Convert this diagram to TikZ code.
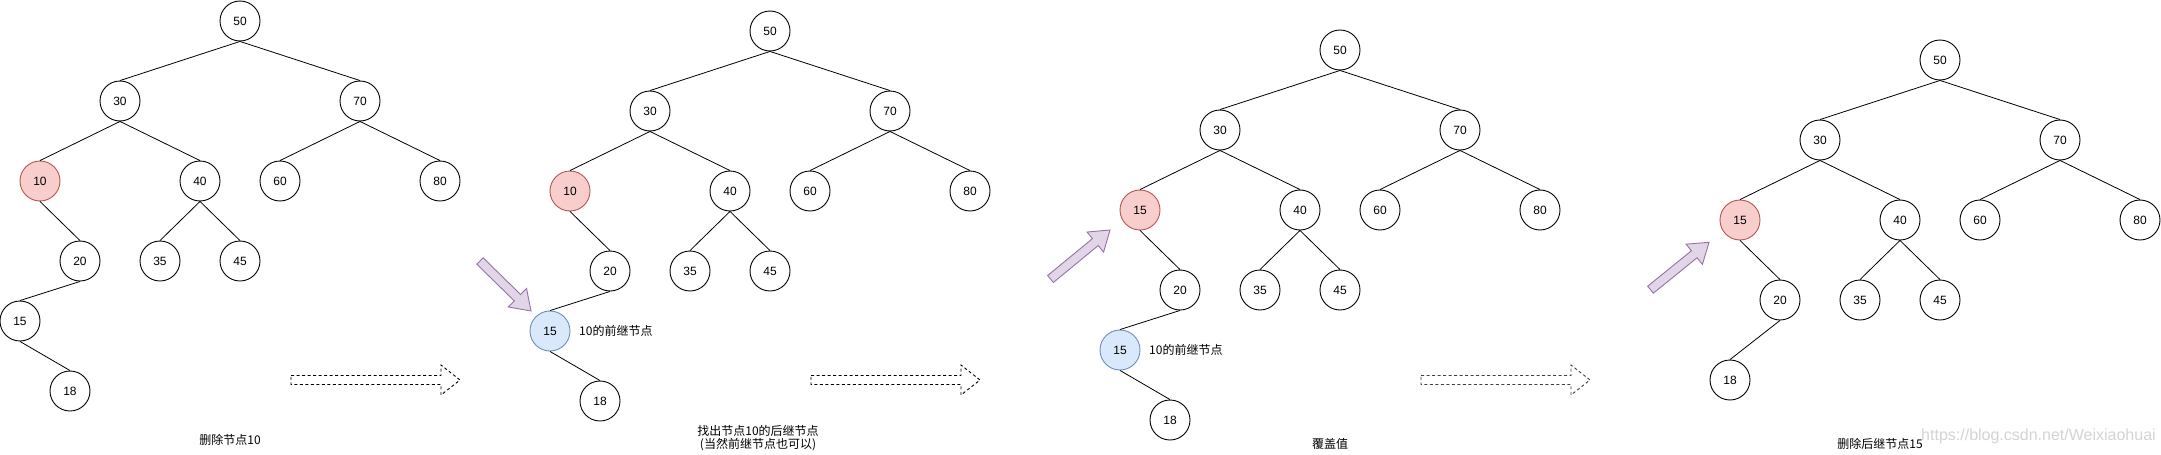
\documentclass[tikz,border=0pt]{standalone}
\usepackage{fontspec}
\setmainfont{Liberation Sans}
\newfontfamily\cjk{Noto Sans CJK SC}
\usetikzlibrary{calc}
\definecolor{redF}{HTML}{F8CECC}
\definecolor{redD}{HTML}{B85450}
\definecolor{blueF}{HTML}{DAE8FC}
\definecolor{blueD}{HTML}{6C8EBF}
\definecolor{purF}{HTML}{E1D5E7}
\definecolor{purD}{HTML}{9673A6}
\definecolor{wmark}{HTML}{D4D4D4}
\tikzset{
  nd/.style={circle,draw=black,line width=0.9pt,minimum size=40pt,inner sep=0pt,font=\fontsize{12}{14}\selectfont},
  hotnode/.style={fill=redF,draw=redD},
  succnode/.style={fill=blueF,draw=blueD},
  edge/.style={draw=black,line width=0.8pt},
  lbl/.style={font=\cjk\fontsize{12}{14}\selectfont,inner sep=0pt},
  hollowarrow/.style={draw=black,line width=0.9pt,dash pattern=on 3pt off 2.5pt},
  fatarrow/.style={fill=purF,draw=purD,line width=0.9pt,line join=miter}
}
\newcommand\basetree[3]{%
  \node[nd] (#1r) at (240,20) {50};
  \node[nd] (#1a) at (120,100) {30};
  \node[nd] (#1b) at (360,100) {70};
  \node[nd,#3] (#1c) at (40,180) {#2};
  \node[nd] (#1d) at (200,180) {40};
  \node[nd] (#1e) at (280,180) {60};
  \node[nd] (#1f) at (440,180) {80};
  \node[nd] (#1g) at (80,260) {20};
  \node[nd] (#1h) at (160,260) {35};
  \node[nd] (#1i) at (240,260) {45};
  \draw[edge] (#1r.south) -- (#1a.north);
  \draw[edge] (#1r.south) -- (#1b.north);
  \draw[edge] (#1a.south) -- (#1c.north);
  \draw[edge] (#1a.south) -- (#1d.north);
  \draw[edge] (#1b.south) -- (#1e.north);
  \draw[edge] (#1b.south) -- (#1f.north);
  \draw[edge] (#1d.south) -- (#1h.north);
  \draw[edge] (#1d.south) -- (#1i.north);
  \draw[edge] (#1c.south) -- (#1g.north);
}
\newcommand\purplearrow[3]{% #1 name, #2 tail, #3 tip
  \coordinate (#1t) at #2;
  \coordinate (#1h) at #3;
  \coordinate (#1b) at ($(#1h)!19pt!(#1t)$);
  \draw[fatarrow] ($(#1t)!4.5pt!90:(#1h)$) -- ($(#1b)!4.5pt!90:(#1h)$) -- ($(#1b)!13pt!90:(#1h)$)
    -- (#1h) -- ($(#1b)!13pt!-90:(#1h)$) -- ($(#1b)!4.5pt!-90:(#1h)$) -- ($(#1t)!4.5pt!-90:(#1h)$) -- cycle;
}
\newcommand\hollow[2]{% #1 x shift, #2 colour
  \draw[hollowarrow,draw=#2,shift={(#1,0)}] (291,375.5) -- (441,375.5) -- (441,365) -- (460,380)
    -- (441,395) -- (441,384.5) -- (291,384.5) -- cycle;
}
\begin{document}
\begin{tikzpicture}[x=1pt,y=-1pt]
\useasboundingbox[fill=white] (0,0) rectangle (2161,455);
% Tree 1
\begin{scope}[shift={(0,1)}]
  \basetree{p}{10}{hotnode}
  \node[nd] (p15) at (20,320) {15};
  \node[nd] (p18) at (70,390) {18};
  \draw[edge] (pg.south) -- (p15.north);
  \draw[edge] (p15.south) -- (p18.north);
\end{scope}
\node[lbl] (cap1) at (230,440) {删除节点10};
\hollow{0}{black}
% Tree 2
\begin{scope}[shift={(530,11)}]
  \basetree{q}{10}{hotnode}
  \node[nd,succnode] (q15) at (20,320) {15};
  \node[nd] (q18) at (70,390) {18};
  \draw[edge] (qg.south) -- (q15.north);
  \draw[edge] (q15.south) -- (q18.north);
  \node[lbl,anchor=west] (qlab) at (49,320) {10的前继节点};
\end{scope}
\node[lbl,align=center,font=\cjk\fontsize{12}{13.5}\selectfont] (cap2) at (758,438) {找出节点10的后继节点\\(当然前继节点也可以)};
\purplearrow{pa}{(480,261)}{(531,311)}
\hollow{520}{black}
% Tree 3
\begin{scope}[shift={(1100,30)}]
  \basetree{s}{15}{hotnode}
  \node[nd,succnode] (s15) at (20,320) {15};
  \node[nd] (s18) at (70,390) {18};
  \draw[edge] (sg.south) -- (s15.north);
  \draw[edge] (s15.south) -- (s18.north);
  \node[lbl,anchor=west] (slab) at (49,320) {10的前继节点};
\end{scope}
\node[lbl] (cap3) at (1330,444) {覆盖值};
\purplearrow{pb}{(1050.5,279)}{(1110,230)}
\hollow{1130}{black!75}
% Tree 4
\begin{scope}[shift={(1700,40)}]
  \basetree{u}{15}{hotnode}
  \node[nd] (u18) at (30,340) {18};
  \draw[edge] (ug.south) -- (u18.north);
\end{scope}
\node[lbl] (cap4) at (1880,444) {删除后继节点15};
\purplearrow{pc}{(1650.5,289.7)}{(1709,242.3)}
\node[anchor=west,inner sep=0pt,text=wmark,font=\fontsize{16}{18}\selectfont] (wm) at (1921,436) {https://blog.csdn.net/Weixiaohuai};
\end{tikzpicture}
\end{document}
